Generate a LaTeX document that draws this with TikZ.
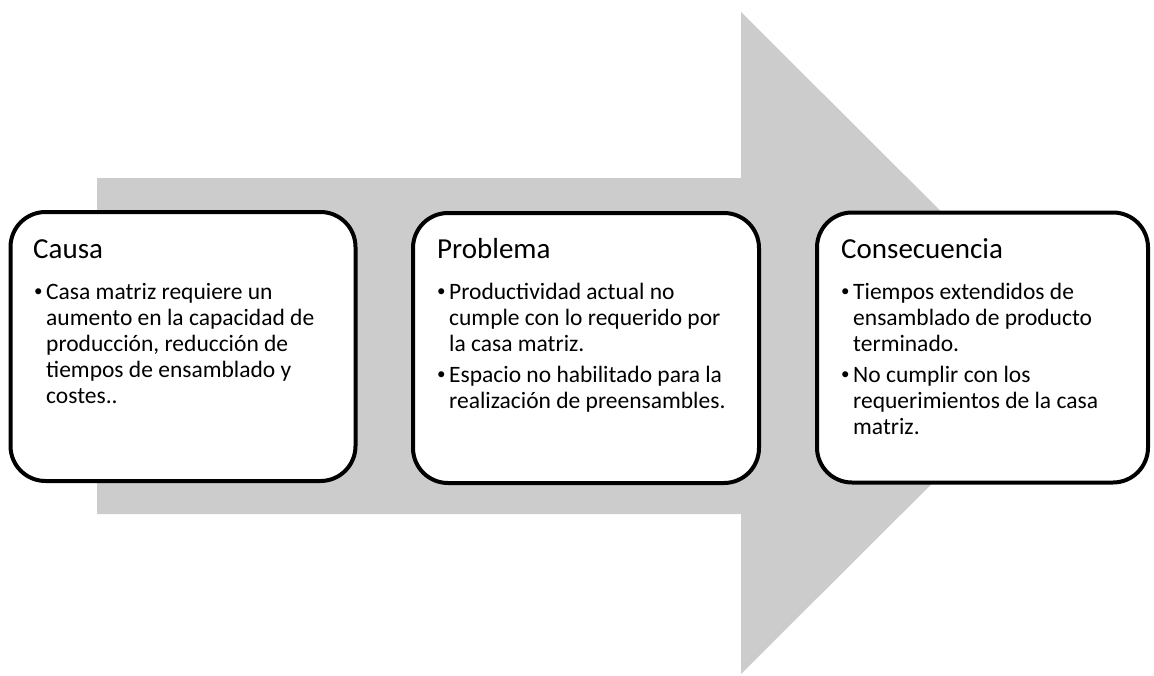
\documentclass[tikz,border=0pt]{standalone}
\usepackage{fontspec}
\setmainfont{Carlito}
\begin{document}
\begin{tikzpicture}[x=1pt,y=-1pt,
  box/.style={draw=black,fill=white,line width=4pt,rounded corners=35pt,inner sep=0pt},
  ttl/.style={anchor=base west,inner sep=0pt,font=\fontsize{29}{34}\selectfont},
  body/.style={anchor=base west,inner sep=0pt,align=left}]
\useasboundingbox (0,0) rectangle (1154,675);
% big arrow
\fill[fill=black!20] (97,178) -- (741,178) -- (741,12) -- (1073,343) -- (741,674) -- (741,514) -- (97,514) -- cycle;
\newcommand{\bitem}[1]{\par\hangindent=12pt\hangafter=1\noindent\makebox[12pt][l]{\raisebox{3pt}{\fontsize{17}{17}\selectfont\textbullet}}#1}
\newcommand{\bodytext}[2]{\parbox[t]{#1}{\fontsize{23.5}{26}\selectfont\setlength{\parskip}{5pt}#2}}
% boxes
\node[box,minimum width=345pt,minimum height=269pt] (b1) at (183,346.5) {};
\node[box,minimum width=346pt,minimum height=270pt] (b2) at (586,348) {};
\node[box,minimum width=331pt,minimum height=270pt] (b3) at (982.5,347.5) {};
% titles
\node[ttl] (t1) at (33,258) {Causa};
\node[ttl] (t2) at (437,258) {Problema};
\node[ttl] (t3) at (841,258) {Consecuencia};
% bodies
\node[body] (c1) at (34,299) {\bodytext{320pt}{%
\bitem{Casa matriz requiere un\\aumento en la capacidad de\\producción, reducción de\\tiempos de ensamblado y\\costes..}}};
\node[body] (c2) at (437,299) {\bodytext{320pt}{%
\bitem{Productividad actual no\\cumple con lo requerido por\\la casa matriz.}
\bitem{Espacio no habilitado para la\\realización de preensambles.}}};
\node[body] (c3) at (841,299) {\bodytext{305pt}{%
\bitem{Tiempos extendidos de\\ensamblado de producto\\terminado.}
\bitem{No cumplir con los\\requerimientos de la casa\\matriz.}}};
\end{tikzpicture}
\end{document}
